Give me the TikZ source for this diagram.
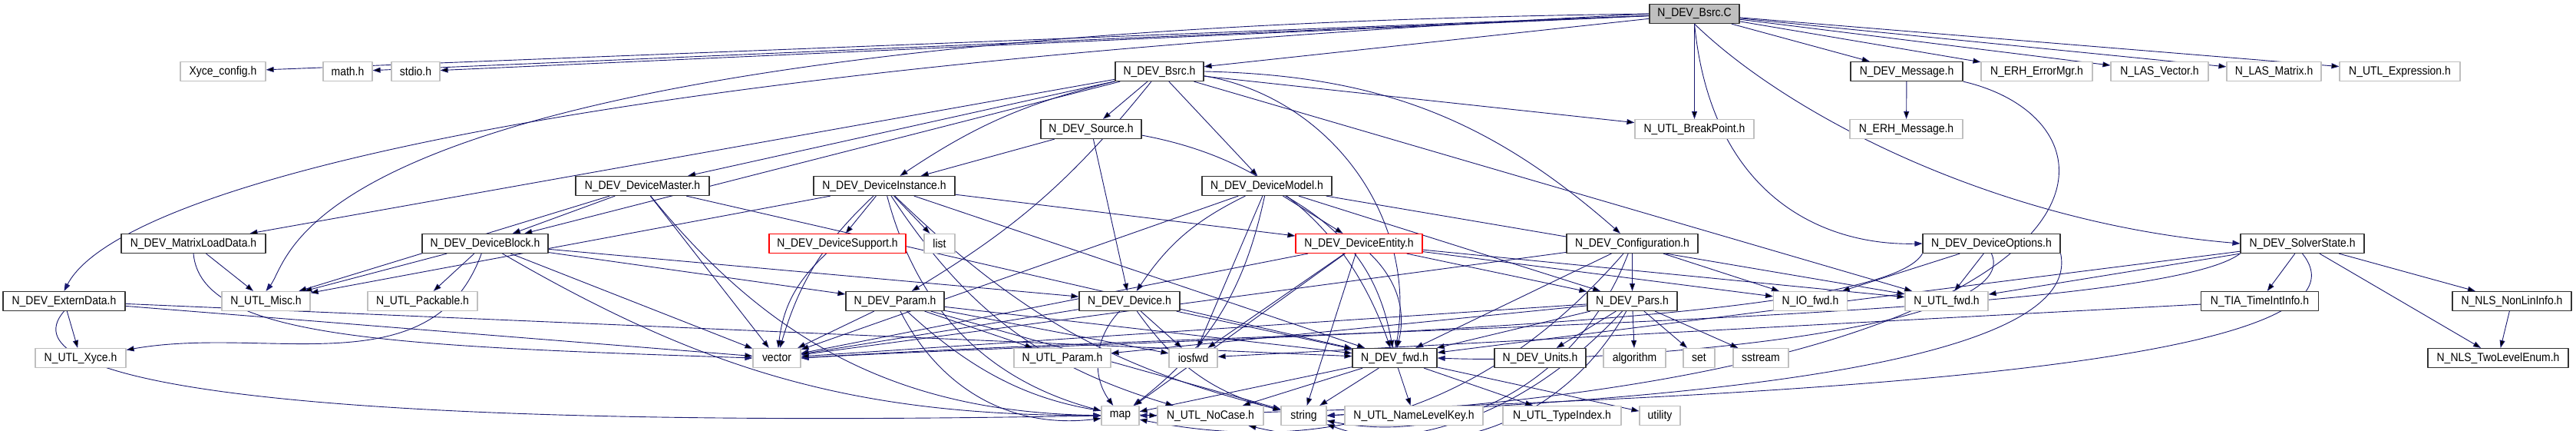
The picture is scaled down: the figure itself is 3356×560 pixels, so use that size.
\documentclass[tikz,border=0pt]{standalone}
\usepackage{fontspec}
\setmainfont{Liberation Sans}[FakeStretch=0.9]
\usepackage{tikz}
\usetikzlibrary{arrows.meta, backgrounds}
\definecolor{edgeblue}{RGB}{25,25,112}
\definecolor{sysgray}{RGB}{191,191,191}
\tikzset{
  box/.style={draw, fill=white, line width=1.2pt, inner sep=0pt, minimum height=25pt,
    font=\fontsize{15.5}{16}\selectfont},
  hdr/.style={box, draw=black!80},
  sys/.style={box, draw=sysgray},
  bad/.style={box, draw=red},
  root/.style={box, draw=black!80, fill=sysgray},
  dep/.style={draw=edgeblue, line width=0.9pt, -{Triangle[length=10pt,width=7pt]}}
}
\begin{document}
\begin{tikzpicture}[x=1pt, y=-1pt, line join=round]
\useasboundingbox (0,0) rectangle (3356,560);
\node[root, minimum width=117pt] (bsrcC) at (2207.5,18) {N\_DEV\_Bsrc.C};
\node[sys, minimum width=111pt] (xyceconfig) at (290.5,93) {Xyce\_config.h};
\node[sys, minimum width=64pt] (mathh) at (453,93) {math.h};
\node[sys, minimum width=63pt] (stdioh) at (541.5,93) {stdio.h};
\node[hdr, minimum width=115pt] (bsrcH) at (1510.5,93) {N\_DEV\_Bsrc.h};
\node[hdr, minimum width=146pt] (message) at (2484,93) {N\_DEV\_Message.h};
\node[sys, minimum width=145pt] (errormgr) at (2653.5,93) {N\_ERH\_ErrorMgr.h};
\node[sys, minimum width=127pt] (lasvector) at (2813.5,93) {N\_LAS\_Vector.h};
\node[sys, minimum width=123pt] (lasmatrix) at (2962.5,93) {N\_LAS\_Matrix.h};
\node[sys, minimum width=157pt] (utlexpr) at (3126.5,93) {N\_UTL\_Expression.h};
\node[hdr, minimum width=131pt] (source) at (1421.5,168) {N\_DEV\_Source.h};
\node[sys, minimum width=155pt] (breakpoint) at (2207.5,168) {N\_UTL\_BreakPoint.h};
\node[sys, minimum width=147pt] (erhmessage) at (2483.5,168) {N\_ERH\_Message.h};
\node[hdr, minimum width=174pt] (devmaster) at (837,242) {N\_DEV\_DeviceMaster.h};
\node[hdr, minimum width=184pt] (devinstance) at (1152,242) {N\_DEV\_DeviceInstance.h};
\node[hdr, minimum width=169pt] (devmodel) at (1650.5,242) {N\_DEV\_DeviceModel.h};
\node[hdr, minimum width=188pt] (matrixload) at (252,317) {N\_DEV\_MatrixLoadData.h};
\node[hdr, minimum width=164pt] (devblock) at (632,317) {N\_DEV\_DeviceBlock.h};
\node[bad, minimum width=178pt] (devsupport) at (1091,317) {N\_DEV\_DeviceSupport.h};
\node[sys, minimum width=40pt] (listh) at (1224,317) {list};
\node[bad, minimum width=165pt] (deventity) at (1770.5,317) {N\_DEV\_DeviceEntity.h};
\node[hdr, minimum width=171pt] (config) at (2126.5,317) {N\_DEV\_Configuration.h};
\node[hdr, minimum width=179pt] (devoptions) at (2594.5,317) {N\_DEV\_DeviceOptions.h};
\node[hdr, minimum width=161pt] (solverstate) at (2999.5,317) {N\_DEV\_SolverState.h};
\node[hdr, minimum width=159pt] (externdata) at (83.5,392) {N\_DEV\_ExternData.h};
\node[sys, minimum width=115pt] (utlmisc) at (346.5,392) {N\_UTL\_Misc.h};
\node[sys, minimum width=143pt] (packable) at (550.5,392) {N\_UTL\_Packable.h};
\node[hdr, minimum width=128pt] (param) at (1166,392) {N\_DEV\_Param.h};
\node[hdr, minimum width=131pt] (device) at (1471.5,392) {N\_DEV\_Device.h};
\node[hdr, minimum width=117pt] (pars) at (2126.5,392) {N\_DEV\_Pars.h};
\node[sys, minimum width=96pt] (iofwd) at (2358.5,392) {N\_IO\_fwd.h};
\node[sys, minimum width=108pt] (utlfwd) at (2536,392) {N\_UTL\_fwd.h};
\node[hdr, minimum width=153pt] (tia) at (2944,392) {N\_TIA\_TimeIntInfo.h};
\node[hdr, minimum width=155pt] (nonlin) at (3272.5,392) {N\_NLS\_NonLinInfo.h};
\node[sys, minimum width=118pt] (utlxyce) at (105,466) {N\_UTL\_Xyce.h};
\node[sys, minimum width=62pt] (vector) at (1012,466) {vector};
\node[sys, minimum width=126pt] (utlparam) at (1384,466) {N\_UTL\_Param.h};
\node[sys, minimum width=63pt] (iosfwd) at (1554.5,466) {iosfwd};
\node[hdr, minimum width=110pt] (devfwd) at (1817,466) {N\_DEV\_fwd.h};
\node[hdr, minimum width=119pt] (devunits) at (2006.5,466) {N\_DEV\_Units.h};
\node[sys, minimum width=81pt] (algorithm) at (2129.5,466) {algorithm};
\node[sys, minimum width=41pt] (seth) at (2213.5,466) {set};
\node[sys, minimum width=72pt] (sstream) at (2294,466) {sstream};
\node[hdr, minimum width=183pt] (twolevel) at (3254.5,466) {N\_NLS\_TwoLevelEnum.h};
\node[sys, minimum width=49pt] (map) at (1459.5,541) {map};
\node[sys, minimum width=138pt] (nocase) at (1577,541) {N\_UTL\_NoCase.h};
\node[sys, minimum width=59pt] (stringh) at (1698.5,541) {string};
\node[sys, minimum width=180pt] (namelevel) at (1842,541) {N\_UTL\_NameLevelKey.h};
\node[sys, minimum width=154pt] (typeindex) at (2035,541) {N\_UTL\_TypeIndex.h};
\node[sys, minimum width=53pt] (utility) at (2162.5,541) {utility};
\begin{scope}[on background layer]
\path[dep] (bsrcC) edge (xyceconfig) edge (mathh) edge (stdioh) edge (bsrcH) edge (breakpoint)
  edge (message) edge (errormgr) edge (lasvector) edge (lasmatrix) edge (utlexpr);
\draw[dep] (bsrcC.west) .. controls (384,40) and (384,330) .. (utlmisc.north);
\draw[dep] (bsrcC.west) .. controls (700,90) and (150,250) .. (externdata.north);
\draw[dep] (bsrcC.south) .. controls (2230,260) and (2380,320) .. (devoptions.west);
\draw[dep] (bsrcC.south) .. controls (2330,150) and (2600,290) .. (solverstate.west);
\path[dep] (bsrcH) edge (source) edge (devmodel) edge (breakpoint) edge[bend right=10] (devinstance)
  edge (matrixload) edge (devblock) edge (devmaster) edge[bend left=20] (config) edge (utlfwd)
  edge[bend left=45] (devfwd) edge[bend left=10] (param);
\path[dep] (source) edge (devinstance) edge (device) edge[bend left=30] (devfwd);
\path[dep] (message) edge (erhmessage);
\draw[dep] (message.south east) .. controls (2790,160) and (2790,480) .. (stringh.east);
\path[dep] (devmaster) edge (devblock) edge (utlmisc) edge (vector) edge[bend right=25] (map) edge (devfwd);
\path[dep] (devinstance) edge (devsupport) edge (listh) edge (deventity) edge[bend right=15] (vector)
  edge (utlmisc) edge[bend right=30] (map) edge[bend right=20] (nocase) edge[bend right=15] (stringh)
  edge (devfwd);
\path[dep] (devmodel) edge (deventity) edge[bend right=15] (device) edge (vector) edge (iosfwd)
  edge[bend left=20] (map) edge[bend left=25] (devfwd) edge (pars) edge (utlfwd);
\path[dep] (matrixload) edge (utlmisc);
\draw[dep] (matrixload.south) .. controls (262,440) and (500,450) .. (vector.west);
\path[dep] (devblock) edge (utlmisc) edge (packable) edge[out=-110, in=10] (utlxyce) edge (vector)
  edge[bend right=15] (map) edge (param) edge (device);
\path[dep] (devsupport) edge[bend right=20] (vector);
\path[dep] (deventity) edge (vector) edge (iosfwd) edge (map) edge (stringh) edge[bend left=30] (devfwd)
  edge (pars) edge (iofwd) edge (utlfwd);
\path[dep] (config) edge (pars) edge (devfwd) edge (vector) edge (iofwd) edge[bend left=40] (stringh)
  edge[bend left=30] (map);
\path[dep] (devoptions) edge (iofwd) edge (utlfwd);
\draw[dep] (devoptions.south) .. controls (2640,430) and (2100,475) .. (devfwd.east);
\draw[dep] (devoptions.south east) .. controls (2720,500) and (2000,525) .. (stringh.east);
\draw[dep] (devoptions.south west) .. controls (2450,430) and (1500,440) .. (vector.east);
\path[dep] (solverstate) edge (utlfwd) edge (tia) edge (nonlin) edge (twolevel) edge (devfwd);
\draw[dep] (solverstate.south west) .. controls (2800,420) and (1600,430) .. (vector.east);
\draw[dep] (solverstate.south) .. controls (3120,480) and (2300,520) .. (map.east);
\path[dep] (externdata) edge (utlxyce) edge (vector) edge (devfwd);
\draw[dep] (externdata.south) .. controls (0,500) and (400,560) .. (map.west);
\path[dep] (param) edge (vector) edge[bend right=35] (map) edge (stringh) edge[bend right=20] (nocase)
  edge (utlparam) edge (iosfwd) edge (devfwd);
\path[dep] (device) edge (vector) edge (iosfwd) edge[bend right=40] (map) edge[bend right=20] (stringh)
  edge (devfwd);
\path[dep] (pars) edge (devfwd) edge (devunits) edge (algorithm) edge (seth) edge (sstream)
  edge (utlparam) edge (vector) edge[bend left=40] (stringh) edge[bend left=30] (nocase);
\path[dep] (tia) edge (iosfwd);
\path[dep] (nonlin) edge (twolevel);
\path[dep] (devfwd) edge (map) edge (nocase) edge (stringh) edge (namelevel) edge (typeindex) edge (utility);
\end{scope}
\end{tikzpicture}
\end{document}
